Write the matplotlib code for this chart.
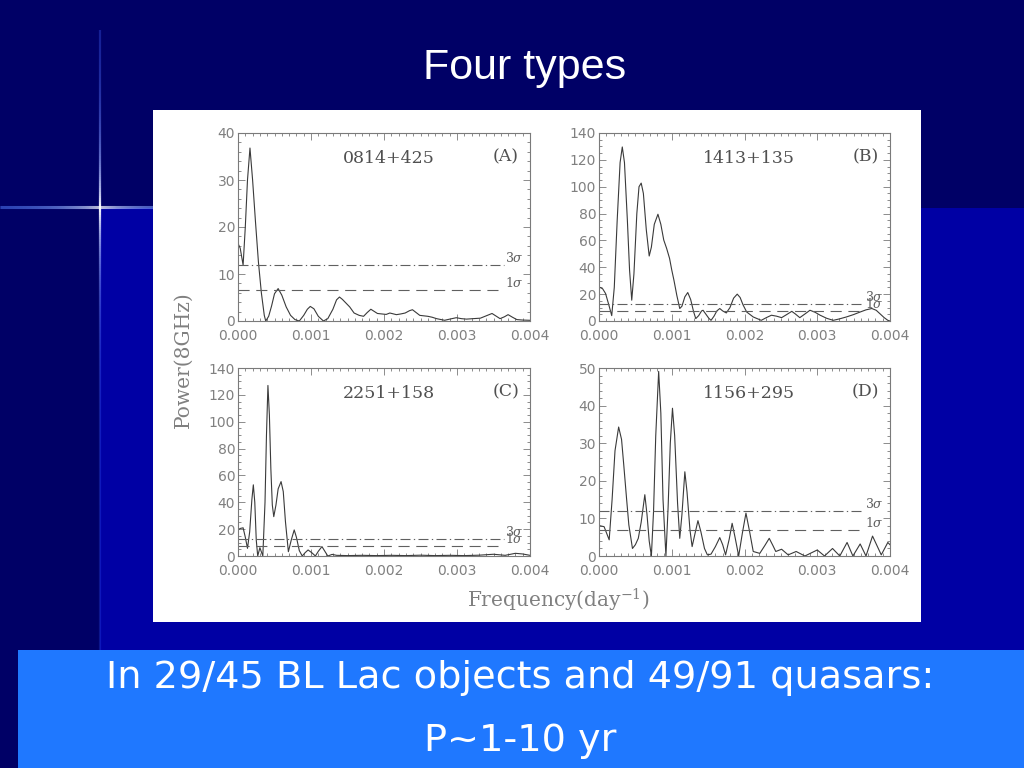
import numpy as np
import matplotlib
matplotlib.use('Agg')
import matplotlib.pyplot as plt
from matplotlib.ticker import MultipleLocator, FormatStrFormatter
from matplotlib.collections import LineCollection
from matplotlib.patches import Rectangle
import matplotlib.transforms as mtransforms

plt.rcParams['mathtext.fontset'] = 'dejavuserif'

# ---------------- data (frequency [1/day], power) ----------------
A_points = [(0.0, 16.5), (0.00003, 15.5), (0.00007, 11.9), (0.00010, 20.0), (0.00013, 30.0),
            (0.000164, 36.8), (0.00020, 30.0), (0.00024, 21.0), (0.00028, 12.5), (0.00032, 6.0),
            (0.00036, 1.2), (0.00038, 0.0), (0.00042, 1.0), (0.00046, 3.2), (0.00050, 5.8),
            (0.00055, 6.9), (0.00060, 5.5), (0.00066, 3.0), (0.00072, 1.2), (0.00078, 0.3),
            (0.00084, 0.0), (0.00090, 1.2), (0.00095, 2.5), (0.00099, 3.1), (0.00104, 2.6),
            (0.00110, 1.0), (0.00117, 0.0), (0.00123, 0.5), (0.00130, 2.5), (0.00135, 4.5),
            (0.00139, 5.1), (0.00143, 4.6), (0.00148, 3.8), (0.00153, 3.0), (0.00159, 1.7),
            (0.00166, 1.2), (0.00172, 1.0), (0.00177, 1.8), (0.00182, 2.5), (0.00187, 2.0),
            (0.00191, 1.6), (0.00197, 1.5), (0.00203, 1.4), (0.00208, 1.7), (0.00217, 1.35),
            (0.00223, 1.5), (0.00229, 1.7), (0.00235, 2.2), (0.00239, 2.4), (0.00244, 1.8),
            (0.00249, 1.2), (0.00260, 1.0), (0.00266, 0.8), (0.00272, 0.5), (0.00283, 0.15),
            (0.00290, 0.4), (0.00299, 0.7), (0.00306, 0.5), (0.00313, 0.4), (0.00322, 0.5),
            (0.00332, 0.6), (0.00340, 1.1), (0.00348, 1.6), (0.00354, 1.0), (0.00359, 0.5),
            (0.00365, 0.9), (0.00370, 1.35), (0.00376, 0.8), (0.00382, 0.3), (0.00390, 0.2),
            (0.00400, 0.15)]

B_points = [(0.0, 25.4), (0.00005, 24.0), (0.00009, 20.5), (0.000135, 12.0), (0.000175, 4.0),
            (0.00021, 25.0), (0.00025, 75.0), (0.00029, 118.0), (0.00032, 129.6), (0.00035, 118.0),
            (0.00039, 75.0), (0.00042, 38.0), (0.00045, 15.5), (0.00048, 35.0), (0.00052, 80.0),
            (0.00055, 100.0), (0.00058, 102.7), (0.00061, 95.0), (0.00065, 68.0), (0.00069, 48.4),
            (0.00072, 55.0), (0.00076, 72.0), (0.00081, 79.5), (0.00085, 72.0), (0.00089, 60.3),
            (0.00093, 54.0), (0.00097, 46.6), (0.00100, 38.0), (0.00103, 30.4), (0.00107, 19.0),
            (0.00111, 9.3), (0.00114, 11.0), (0.00118, 18.0), (0.00122, 21.2), (0.00126, 16.0),
            (0.00130, 7.0), (0.00133, 1.8), (0.00137, 4.0), (0.00141, 7.5), (0.00143, 8.0),
            (0.00147, 5.0), (0.00151, 2.0), (0.00154, 0.5), (0.00158, 3.5), (0.00162, 7.5),
            (0.00166, 9.3), (0.00170, 7.5), (0.00175, 6.0), (0.00180, 10.0), (0.00185, 17.0),
            (0.00190, 20.0), (0.00194, 17.5), (0.00198, 12.0), (0.00203, 6.7), (0.00212, 3.0),
            (0.00223, 0.5), (0.00230, 2.5), (0.00237, 4.3), (0.00244, 3.6), (0.00251, 2.5),
            (0.00258, 4.8), (0.00265, 7.2), (0.00270, 5.2), (0.00276, 2.5), (0.00283, 5.2),
            (0.00290, 8.0), (0.00297, 6.5), (0.00304, 4.3), (0.00313, 2.0), (0.00322, 0.5),
            (0.00330, 1.5), (0.00340, 3.0), (0.00350, 4.8), (0.00359, 6.7), (0.00367, 8.3),
            (0.00375, 9.3), (0.00381, 8.0), (0.00386, 5.5), (0.00392, 2.5), (0.00397, 0.5),
            (0.00400, 0.0)]

C_points = [(0.0, 19.4), (0.00003, 20.5), (0.00007, 21.0), (0.00010, 14.0), (0.00013, 5.7),
            (0.00016, 18.0), (0.00019, 42.0), (0.00021, 53.0), (0.00023, 40.0), (0.00025, 12.0),
            (0.00027, 0.0), (0.00030, 6.2), (0.00034, 0.0), (0.00037, 40.0), (0.00039, 90.0),
            (0.00041, 127.0), (0.00043, 105.0), (0.00045, 65.0), (0.00047, 38.0), (0.00049, 29.3),
            (0.00052, 38.0), (0.00055, 50.0), (0.00059, 55.4), (0.00062, 48.0), (0.00065, 25.6),
            (0.00069, 3.2), (0.00073, 12.0), (0.00077, 19.4), (0.00080, 14.0), (0.00084, 4.0),
            (0.00088, 0.0), (0.00092, 2.5), (0.00096, 4.5), (0.00101, 2.5), (0.00106, 0.0),
            (0.00110, 3.5), (0.00115, 7.0), (0.00119, 3.5), (0.00123, 0.0), (0.00129, 1.2),
            (0.00135, 0.5), (0.00150, 0.3), (0.00170, 0.5), (0.00190, 0.3), (0.00210, 0.5),
            (0.00230, 0.3), (0.00250, 0.6), (0.00270, 0.3), (0.00290, 0.5), (0.00310, 0.3),
            (0.00330, 0.6), (0.00350, 1.3), (0.00366, 0.5), (0.00380, 2.0), (0.00390, 1.5),
            (0.00400, 0.5)]

D_points = [(0.0, 8.1), (0.00007, 7.8), (0.00014, 4.3), (0.00018, 15.0), (0.00022, 28.0),
            (0.00027, 34.3), (0.00031, 31.0), (0.00034, 24.3), (0.00038, 15.0), (0.00041, 8.3),
            (0.00046, 2.0), (0.00050, 3.0), (0.00054, 4.7), (0.00058, 9.0), (0.00063, 16.3),
            (0.00066, 11.0), (0.00069, 4.0), (0.00072, 0.0), (0.00075, 12.0), (0.00078, 32.0),
            (0.00082, 49.1), (0.00085, 38.0), (0.00088, 15.0), (0.00092, 0.0), (0.00095, 13.0),
            (0.00098, 30.0), (0.00101, 39.3), (0.00104, 32.0), (0.00108, 14.0), (0.00111, 4.7),
            (0.00114, 11.0), (0.00118, 22.4), (0.00121, 17.0), (0.00125, 7.0), (0.00128, 2.5),
            (0.00132, 6.0), (0.00136, 9.4), (0.00140, 6.5), (0.00145, 2.0), (0.00149, 0.3),
            (0.00154, 0.5), (0.00160, 2.5), (0.00166, 4.9), (0.00170, 3.0), (0.00174, 0.3),
            (0.00179, 4.5), (0.00183, 8.7), (0.00187, 5.0), (0.00192, 0.0), (0.00197, 6.0),
            (0.00202, 11.4), (0.00207, 6.5), (0.00212, 1.2), (0.00221, 0.7), (0.00228, 2.8),
            (0.00234, 4.7), (0.00239, 2.8), (0.00243, 1.2), (0.00251, 1.8), (0.00260, 0.3),
            (0.00271, 1.2), (0.00283, 0.0), (0.00300, 1.6), (0.00310, 0.0), (0.00321, 2.0),
            (0.00331, 0.0), (0.00341, 3.6), (0.00349, 0.0), (0.00359, 3.2), (0.00367, 0.0),
            (0.00376, 5.3), (0.00388, 0.3), (0.00397, 3.6), (0.00400, 3.0)]

sources = ['0814+425', '1413+135', '2251+158', '1156+295']
panel_tags = ['(A)', '(B)', '(C)', '(D)']
sigma3 = [11.9, 12.4, 12.7, 12.1]
sigma1 = [6.5, 7.1, 7.5, 6.8]
y_max = [40, 140, 140, 50]
y_major = [10, 20, 20, 10]
y_minor = [2, 5, 5, 2]
x_ticks = [0.000, 0.001, 0.002, 0.003, 0.004]

title = 'Four types'
bottom_line1 = 'In 29/45 BL Lac objects and 49/91 quasars:'
bottom_line2 = 'P~1-10 yr'

# ---------------- figure / slide background ----------------
fig = plt.figure(figsize=(10.24, 7.68), dpi=100)
fig.patch.set_facecolor('#000066')
bg = fig.add_axes([0, 0, 1, 1])
bg.set_xlim(0, 1024)
bg.set_ylim(768, 0)
bg.axis('off')
bg.add_patch(Rectangle((100, 208), 924, 450, facecolor='#0000a4', edgecolor='none', zorder=1))

# glowing cross
xs = np.linspace(0, 153, 160)
segs = [[(xs[i], 207), (xs[i + 1], 207)] for i in range(len(xs) - 1)]
a = np.exp(-np.abs(xs[:-1] - 100) / 45.0)
cols = [(0.25 + 0.75 * v, 0.45 + 0.55 * v, 1.0, 0.55 + 0.45 * v) for v in a]
bg.add_collection(LineCollection(segs, colors=cols, linewidths=2.2, zorder=2))
ys = np.linspace(30, 650, 300)
segs = [[(100, ys[i]), (100, ys[i + 1])] for i in range(len(ys) - 1)]
a = np.exp(-np.abs(ys[:-1] - 207) / 70.0)
cols = [(0.2 + 0.8 * v, 0.35 + 0.65 * v, 1.0, 0.25 + 0.75 * v) for v in a]
bg.add_collection(LineCollection(segs, colors=cols, linewidths=1.6, zorder=2))

bg.add_patch(Rectangle((153, 110), 768, 512, facecolor='white', edgecolor='none', zorder=3))
bg.add_patch(Rectangle((18, 650), 1006, 118, facecolor='#1f78ff', edgecolor='none', zorder=3))

bg.text(525, 68, title, color='white', fontsize=31, ha='center', va='center',
        family=['Liberation Sans Narrow', 'Liberation Sans', 'DejaVu Sans'], zorder=5)
bg.text(520, 678, bottom_line1, color='white', fontsize=27.5, ha='center', va='center',
        family='DejaVu Sans', zorder=5)
bg.text(520, 741, bottom_line2, color='white', fontsize=27.5, ha='center', va='center',
        family='DejaVu Sans', zorder=5)

bg.text(183, 360, 'Power(8GHz)', rotation=90, color='#808080', fontsize=14.5,
        ha='center', va='center', family='DejaVu Serif', zorder=5)
bg.text(558, 600, 'Frequency(day$^{-1}$)', color='#808080', fontsize=14.5,
        ha='center', va='center', family='DejaVu Serif', zorder=5)

# ---------------- panels ----------------
W, H = 1024.0, 768.0
rects = [(238, 321, 292, 188), (599, 321, 291, 188),
         (238, 556, 292, 188), (599, 556, 291, 188)]
all_points = [A_points, B_points, C_points, D_points]

axis_col = '#7a7a7a'
for i, (l, b, w, h) in enumerate(rects):
    ax = fig.add_axes([l / W, 1 - b / H, w / W, h / H])
    ax.set_facecolor('white')
    f = [p[0] for p in all_points[i]]
    pw = [p[1] for p in all_points[i]]
    ax.plot(f, pw, color='#3a3a3a', lw=0.8)
    ax.axhline(sigma3[i], xmin=0, xmax=0.912, color='#606060', lw=0.8,
               dashes=(9, 3, 1.2, 3))
    ax.axhline(sigma1[i], xmin=0, xmax=0.912, color='#606060', lw=0.8,
               dashes=(10, 6))
    tr = mtransforms.blended_transform_factory(ax.transAxes, ax.transData)
    ax.text(0.915, sigma3[i], r'3$\sigma$', transform=tr, ha='left', va='bottom',
            fontsize=9, color='#606060', family='DejaVu Serif')
    ax.text(0.915, sigma1[i], r'1$\sigma$', transform=tr, ha='left', va='bottom',
            fontsize=9, color='#606060', family='DejaVu Serif')
    ax.text(0.515, 0.865, sources[i], transform=ax.transAxes, ha='center', va='center',
            fontsize=12.5, color='#505050', family='DejaVu Serif')
    ax.text(0.917, 0.875, panel_tags[i], transform=ax.transAxes, ha='center', va='center',
            fontsize=12.5, color='#505050', family='DejaVu Serif')
    ax.set_xlim(0, 0.004)
    ax.set_ylim(0, y_max[i])
    ax.set_xticks(x_ticks)
    ax.xaxis.set_major_formatter(FormatStrFormatter('%.3f'))
    ax.xaxis.set_minor_locator(MultipleLocator(0.0001))
    ax.yaxis.set_major_locator(MultipleLocator(y_major[i]))
    ax.yaxis.set_minor_locator(MultipleLocator(y_minor[i]))
    ax.tick_params(which='both', direction='in', top=True, right=True,
                   color=axis_col, width=0.6)
    ax.tick_params(which='major', length=5, labelsize=10, labelcolor='#808080')
    ax.tick_params(which='minor', length=2.5)
    ax.tick_params(axis='x', pad=6)
    ax.tick_params(axis='y', pad=2)
    for s in ax.spines.values():
        s.set_color(axis_col)
        s.set_linewidth(0.8)

fig.savefig('out.png', dpi=100, facecolor=fig.get_facecolor())
